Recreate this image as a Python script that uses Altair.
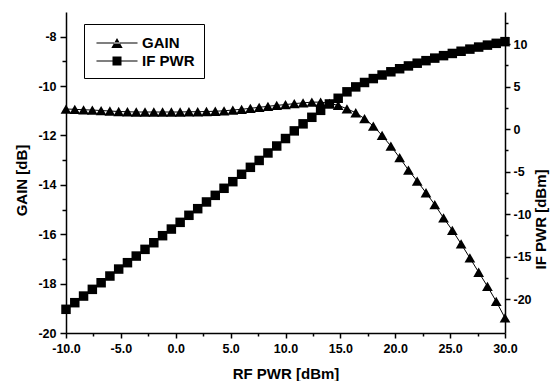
import altair as alt
import pandas as pd

# ---------------- data ----------------
rf_pwr = [-10.0, -9.2, -8.4, -7.6, -6.8, -6.0, -5.2, -4.4, -3.6, -2.8, -2.0, -1.2, -0.4,
          0.4, 1.2, 2.0, 2.8, 3.6, 4.4, 5.2, 6.0, 6.8, 7.6, 8.4, 9.2,
          10.0, 10.8, 11.6, 12.4, 13.2, 14.0, 14.8, 15.6, 16.4, 17.2, 18.0, 18.8, 19.6,
          20.4, 21.2, 22.0, 22.8, 23.6, 24.4, 25.2, 26.0, 26.8, 27.6, 28.4, 29.2, 30.0]

gain_db = [-10.93, -10.94, -10.96, -10.97, -10.99, -11.01, -11.03, -11.04, -11.05, -11.05,
           -11.05, -11.05, -11.05, -11.05, -11.04, -11.04, -11.03, -11.02, -11.00, -10.97,
           -10.94, -10.90, -10.86, -10.82, -10.78, -10.75, -10.71, -10.68, -10.65, -10.65,
           -10.70, -10.78, -10.92, -11.08, -11.32, -11.62, -12.00, -12.43, -12.90, -13.40,
           -13.85, -14.32, -14.80, -15.34, -15.84, -16.39, -16.96, -17.54, -18.11, -18.72, -19.39]

if_pwr_dbm = [-21.21, -20.43, -19.65, -18.86, -18.08, -17.29, -16.47, -15.72, -14.94, -14.15,
              -13.37, -12.54, -11.76, -10.97, -10.14, -9.36, -8.57, -7.79, -6.96, -6.18,
              -5.31, -4.49, -3.68, -2.80, -1.98, -1.10, -0.20, 0.63, 1.40, 2.22,
              2.97, 3.64, 4.40, 4.98, 5.50, 5.96, 6.38, 6.76, 7.12, 7.45,
              7.77, 8.07, 8.37, 8.66, 8.92, 9.18, 9.43, 9.67, 9.90, 10.11, 10.31]

series_names = ["GAIN", "IF PWR"]

x_ticks = [-10, -7.5, -5, -2.5, 0, 2.5, 5, 7.5, 10, 12.5, 15, 17.5, 20, 22.5, 25, 27.5, 30]
gain_ticks = [-20, -19, -18, -17, -16, -15, -14, -13, -12, -11, -10, -9, -8]
if_ticks = [-22.5, -20, -17.5, -15, -12.5, -10, -7.5, -5, -2.5, 0, 2.5, 5, 7.5, 10, 12.5]

FONT = "Liberation Sans"

df = pd.DataFrame({"rf": rf_pwr, "gain": gain_db, "ifp": if_pwr_dbm})
legend_df = pd.DataFrame({"series": series_names})

# legend symbols: a thin bar (the line) with the marker on it
tri_path = "M-2.28,-0.06H2.28V0.06H-2.28ZM0,-0.55L-0.63,0.55L0.63,0.55Z"
sq_path = "M-2.28,-0.06H2.28V0.06H-2.28ZM-0.5,-0.5H0.5V0.5H-0.5Z"


def tick_cond(test, major, minor):
    return {"condition": {"test": test, "value": major}, "value": minor}


x_enc = alt.X(
    "rf:Q",
    scale=alt.Scale(domain=[-10, 30], nice=False, zero=False),
    axis=alt.Axis(
        values=x_ticks,
        title="RF PWR [dBm]",
        labelExpr="datum.value % 5 === 0 ? (datum.value + '.0') : ''",
        tickSize=tick_cond("datum.value % 5 === 0", 5, 3),
        labelPadding=4,
        titleY=40,
        titleBaseline="middle",
    ),
)

gain_y = alt.Y(
    "gain:Q",
    scale=alt.Scale(domain=[-20, -7], nice=False, zero=False),
    axis=alt.Axis(
        orient="left",
        values=gain_ticks,
        title="GAIN [dB]",
        labelExpr="datum.value % 2 === 0 ? ('' + datum.value) : ''",
        tickSize=tick_cond("datum.value % 2 === 0", 6, 4),
        labelPadding=4,
        titleAngle=270,
        titleX=-45,
        titleY=168,
        titleAlign="center",
        titleBaseline="middle",
    ),
)

if_y = alt.Y(
    "ifp:Q",
    scale=alt.Scale(domain=[-24, 13.8], nice=False, zero=False),
    axis=alt.Axis(
        orient="right",
        values=if_ticks,
        title="IF PWR [dBm]",
        labelExpr="datum.value % 5 === 0 ? ('' + datum.value) : ''",
        tickSize=tick_cond("datum.value % 5 === 0", 5, 3),
        labelPadding=3,
        titleAngle=270,
        titleX=35,
        titleY=207,
        titleAlign="center",
        titleBaseline="middle",
    ),
)

base = alt.Chart(df)

gain_line = base.mark_line(color="black", strokeWidth=1).encode(x=x_enc, y=gain_y)
gain_pts = base.mark_point(shape="triangle-up", filled=True, color="black",
                           size=115, opacity=1).encode(x=x_enc, y=gain_y)

legend_layer = (
    alt.Chart(legend_df)
    .transform_filter("false")
    .mark_point(filled=True, color="black", opacity=1)
    .encode(
        shape=alt.Shape(
            "series:N",
            scale=alt.Scale(domain=series_names, range=[tri_path, sq_path]),
            legend=alt.Legend(
                title=None,
                orient="none",
                legendX=18,
                legendY=12,
                symbolSize=324,
                symbolOffset=14,
                labelOffset=15,
                rowPadding=0,
                padding=9,
                strokeColor="black",
                fillColor="white",
                cornerRadius=0,
                labelFont=FONT,
                labelFontSize=15,
                labelFontWeight="bold",
                labelColor="black",
                symbolFillColor="black",
                symbolOpacity=1,
            ),
        )
    )
)

if_line = base.mark_line(color="black", strokeWidth=1).encode(x=x_enc, y=if_y)
if_pts = base.mark_point(shape="square", filled=True, color="black",
                         size=90, opacity=1).encode(x=x_enc, y=if_y)

left = alt.layer(gain_line, gain_pts, legend_layer)
right = alt.layer(if_line, if_pts)

chart = (
    alt.layer(left, right)
    .resolve_scale(y="independent")
    .properties(
        width=439,
        height=321,
        padding={"left": 66, "top": 12, "right": 46, "bottom": 48},
        autosize=alt.AutoSizeParams(type="none"),
        background="white",
    )
    .configure_axis(
        domainColor="black",
        domainWidth=1.5,
        tickColor="black",
        tickWidth=1.5,
        labelFont=FONT,
        labelFontSize=12.5,
        labelFontWeight="bold",
        labelColor="black",
        labelFlush=False,
        labelOverlap=False,
        titleFont=FONT,
        titleFontSize=15,
        titleFontWeight="bold",
        titleColor="black",
        grid=False,
    )
    .configure_view(strokeWidth=0)
)

chart.save("out.html", embed_options={"renderer": "svg", "actions": False})
